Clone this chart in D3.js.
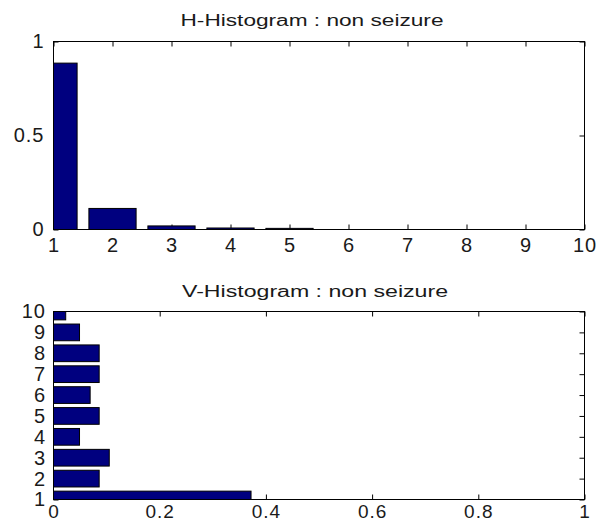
<!DOCTYPE html>
<html>
<head>
<meta charset="utf-8">
<script src="https://cdn.jsdelivr.net/npm/d3@7"></script>
<style>
  html, body { margin: 0; padding: 0; background: #fff; }
  svg { display: block; }
</style>
</head>
<body>
<svg id="chart" width="596" height="524"></svg>
<script>
// ---- data ----
const bins = [1, 2, 3, 4, 5, 6, 7, 8, 9, 10];
const hValues = [0.885, 0.112, 0.019, 0.008, 0.006, 0, 0, 0, 0, 0];
const vValues = [0.372, 0.086, 0.105, 0.049, 0.086, 0.069, 0.086, 0.086, 0.049, 0.023];
const hTitle = "H-Histogram : non seizure";
const vTitle = "V-Histogram : non seizure";
const hYTicks = [0, 0.5, 1];
const vXTicks = [0, 0.2, 0.4, 0.6, 0.8, 1];

const svg = d3.select("#chart");
const barFill = "#00007f";
const fontFam = "Arial, 'Liberation Sans', sans-serif";

function styleAxis(g, showLabels, size) {
  g.select(".domain").remove();
  g.selectAll(".tick line").attr("stroke", "#000").attr("stroke-width", 1);
  g.selectAll(".tick text")
    .attr("fill", "#1a1a1a")
    .style("font-family", fontFam)
    .style("font-size", (size || 20) + "px")
    .style("letter-spacing", "1px");
  if (!showLabels) g.selectAll(".tick text").remove();
}

// ---- top: H-Histogram ----
const L = 53.5, R = 584.5;
{
  const top = 41.5, bottom = 229.5;
  const x = d3.scaleLinear().domain([1, 10]).range([L, R]);
  const y = d3.scaleLinear().domain([0, 1]).range([bottom, top]);
  const g = svg.append("g");

  g.append("defs").append("clipPath").attr("id", "clipH")
    .append("rect").attr("x", L).attr("y", top).attr("width", R - L).attr("height", bottom - top);

  g.append("g").attr("transform", `translate(0,${bottom})`)
    .call(d3.axisBottom(x).tickValues(bins).tickFormat(d3.format("d")).tickSizeInner(-5).tickSizeOuter(0).tickPadding(8.5))
    .call(a => styleAxis(a, true));
  g.append("g").attr("transform", `translate(0,${top})`)
    .call(d3.axisTop(x).tickValues(bins).tickSizeInner(-5).tickSizeOuter(0))
    .call(a => styleAxis(a, false));
  g.append("g").attr("transform", `translate(${L},0)`)
    .call(d3.axisLeft(y).tickValues(hYTicks).tickFormat(d => d3.format("")(d)).tickSizeInner(-5).tickSizeOuter(0).tickPadding(9))
    .call(a => styleAxis(a, true));
  g.append("g").attr("transform", `translate(${R},0)`)
    .call(d3.axisRight(y).tickValues(hYTicks).tickSizeInner(-5).tickSizeOuter(0))
    .call(a => styleAxis(a, false));

  g.append("g").attr("clip-path", "url(#clipH)")
    .selectAll("rect").data(bins.map((b, i) => ({ b, v: hValues[i] })).filter(d => d.v > 0))
    .join("rect")
    .attr("x", d => x(d.b - 0.4))
    .attr("width", d => x(d.b + 0.4) - x(d.b - 0.4))
    .attr("y", d => y(d.v))
    .attr("height", d => y(0) - y(d.v))
    .attr("fill", barFill).attr("stroke", "#000").attr("stroke-width", 1);

  g.append("rect").attr("x", L).attr("y", top).attr("width", R - L).attr("height", bottom - top)
    .attr("fill", "none").attr("stroke", "#000").attr("stroke-width", 1);

  g.append("text").attr("x", (L + R) / 2 - 7).attr("y", 26)
    .attr("text-anchor", "middle")
    .attr("textLength", 263).attr("lengthAdjust", "spacingAndGlyphs")
    .style("font-family", fontFam).style("font-size", "16px").attr("fill", "#1a1a1a")
    .text(hTitle);
}

// ---- bottom: V-Histogram ----
{
  const top = 311.5, bottom = 499.5;
  const x = d3.scaleLinear().domain([0, 1]).range([L, R]);
  const y = d3.scaleLinear().domain([1, 10]).range([bottom, top]);
  const g = svg.append("g");

  g.append("defs").append("clipPath").attr("id", "clipV")
    .append("rect").attr("x", L).attr("y", top).attr("width", R - L).attr("height", bottom - top);

  g.append("g").attr("transform", `translate(0,${bottom})`)
    .call(d3.axisBottom(x).tickValues(vXTicks).tickFormat(d => d3.format("")(d)).tickSizeInner(-5).tickSizeOuter(0).tickPadding(5))
    .call(a => styleAxis(a, true, 19));
  g.append("g").attr("transform", `translate(0,${top})`)
    .call(d3.axisTop(x).tickValues(vXTicks).tickSizeInner(-5).tickSizeOuter(0))
    .call(a => styleAxis(a, false));
  g.append("g").attr("transform", `translate(${L},0)`)
    .call(d3.axisLeft(y).tickValues(bins).tickFormat(d3.format("d")).tickSizeInner(-5).tickSizeOuter(0).tickPadding(7.5))
    .call(a => styleAxis(a, true));
  g.append("g").attr("transform", `translate(${R},0)`)
    .call(d3.axisRight(y).tickValues(bins).tickSizeInner(-5).tickSizeOuter(0))
    .call(a => styleAxis(a, false));

  g.append("g").attr("clip-path", "url(#clipV)")
    .selectAll("rect").data(bins.map((b, i) => ({ b, v: vValues[i] })))
    .join("rect")
    .attr("x", x(0))
    .attr("width", d => x(d.v) - x(0))
    .attr("y", d => y(d.b + 0.4))
    .attr("height", d => y(d.b - 0.4) - y(d.b + 0.4))
    .attr("fill", barFill).attr("stroke", "#000").attr("stroke-width", 1);

  g.append("rect").attr("x", L).attr("y", top).attr("width", R - L).attr("height", bottom - top)
    .attr("fill", "none").attr("stroke", "#000").attr("stroke-width", 1);

  g.append("text").attr("x", (L + R) / 2 - 4).attr("y", 296.5)
    .attr("text-anchor", "middle")
    .attr("textLength", 266).attr("lengthAdjust", "spacingAndGlyphs")
    .style("font-family", fontFam).style("font-size", "16px").attr("fill", "#1a1a1a")
    .text(vTitle);
}
</script>
</body>
</html>
